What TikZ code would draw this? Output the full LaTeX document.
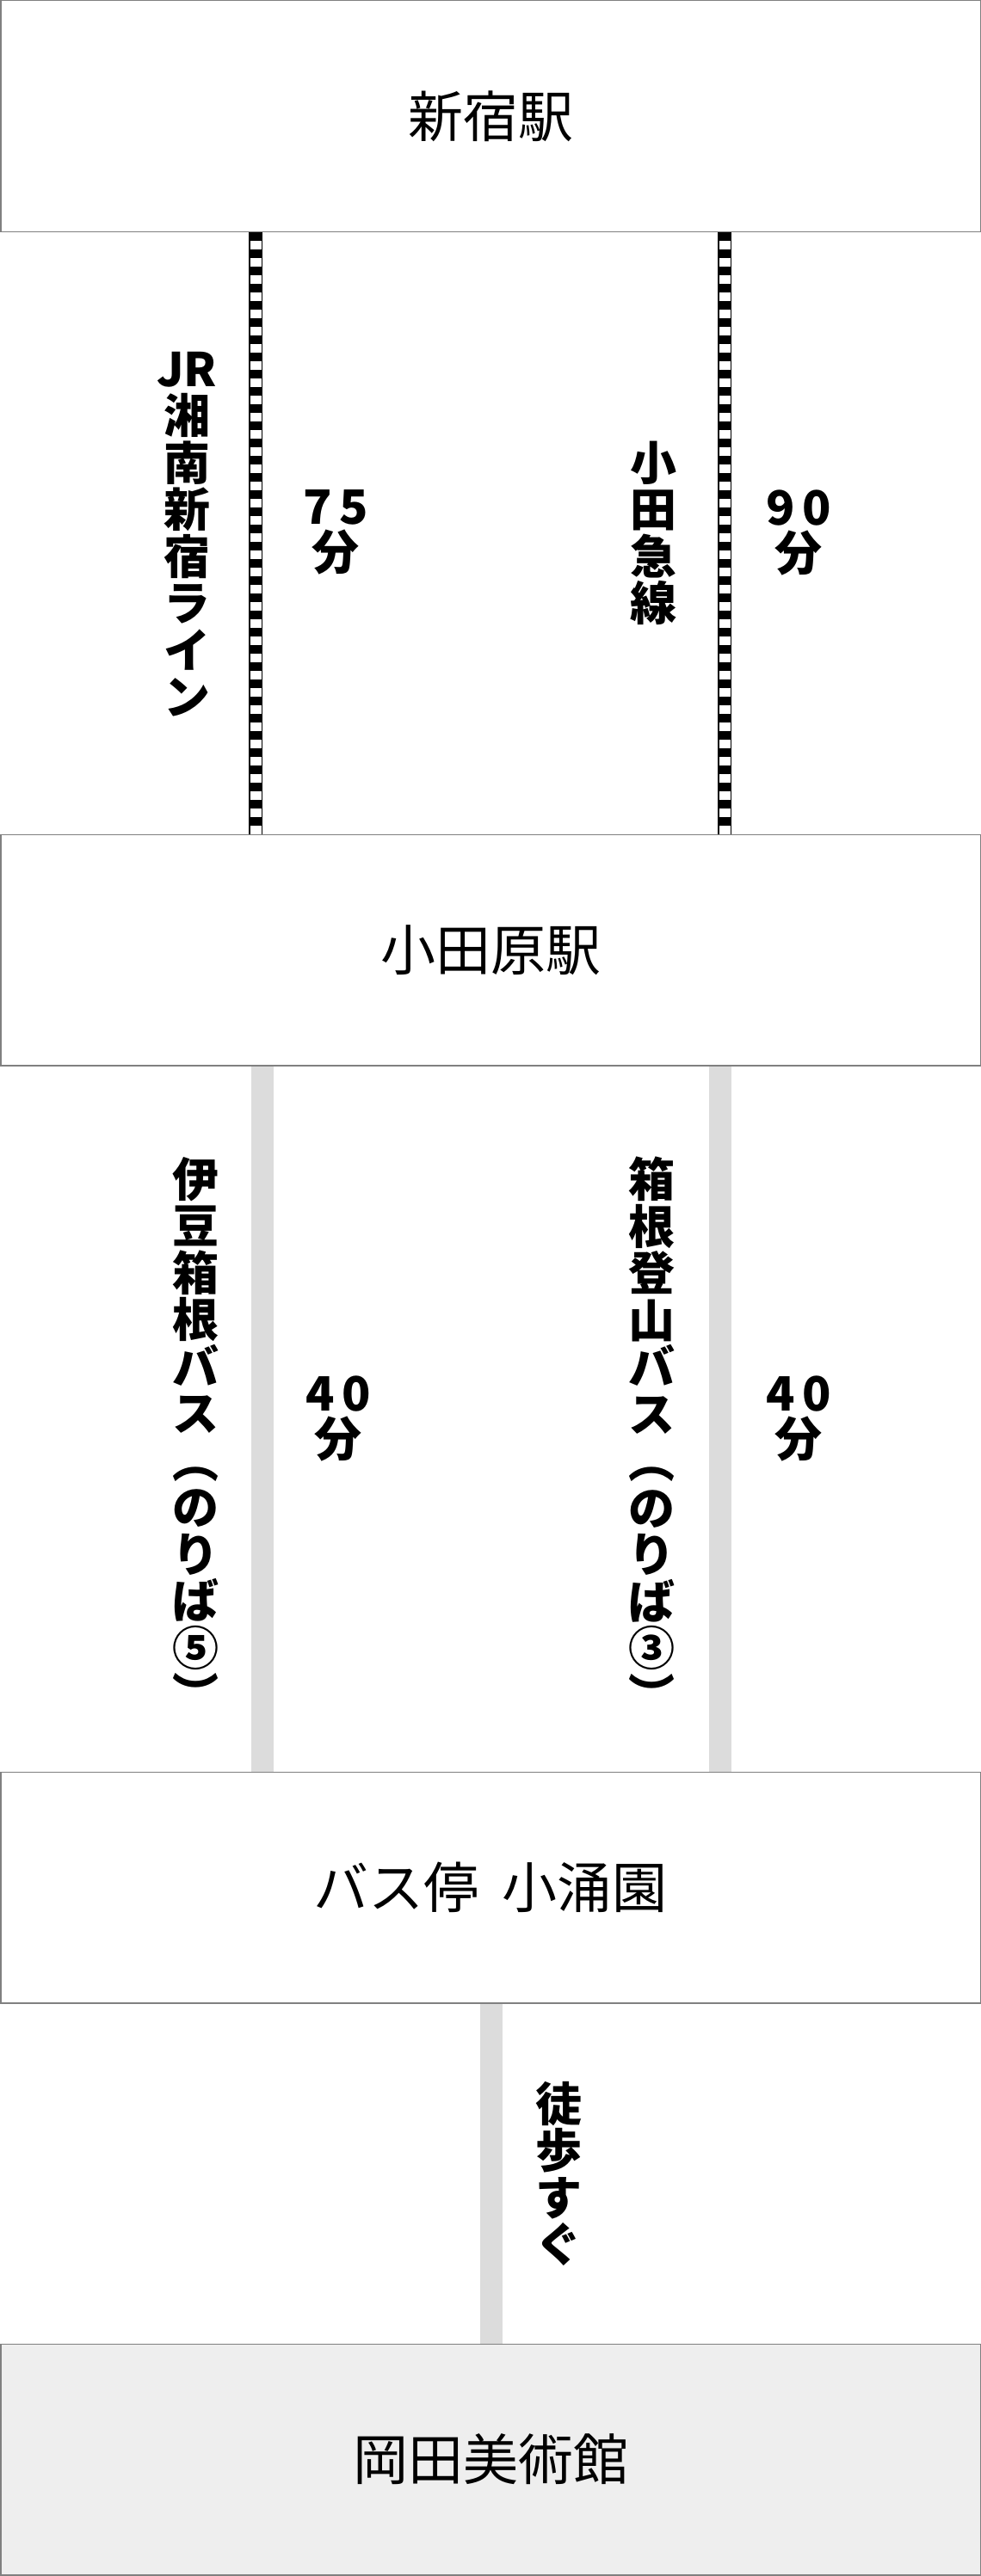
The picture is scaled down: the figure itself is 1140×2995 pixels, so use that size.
\documentclass[tikz,border=0pt]{standalone}
\usepackage{fontspec}
\newfontfamily\jp{Noto Sans CJK JP}
\lineskiplimit=-1000pt
\definecolor{boxline}{HTML}{808080}
\definecolor{barfill}{HTML}{DCDCDC}
\definecolor{lastfill}{HTML}{EEEEEE}
\begin{document}
\begin{tikzpicture}[x=1pt,y=-1pt,
  station/.style={draw=boxline, line width=1.5pt, fill=white, minimum width=1138.5pt,
    minimum height=268.5pt, inner sep=0pt, font=\jp\fontsize{64}{70}\selectfont},
  vlabel/.style={inner sep=0pt, outer sep=0pt, align=center, anchor=north,
    font=\jp\bfseries\fontsize{54}{54.5}\selectfont},
  tlabel/.style={inner sep=0pt, outer sep=0pt, align=center, anchor=north,
    font=\jp\bfseries\fontsize{55}{53}\selectfont},
  rail/.style={draw=black, line width=16pt,
    postaction={draw=white, line width=13pt},
    postaction={draw=black, line width=13pt, dash pattern=on 10pt off 10pt}},
  busbar/.style={draw=barfill, line width=26pt}
]
\useasboundingbox[fill=white] (0,0) rectangle (1140,2995);

% stations
\node[station] (s1) at (570,135) {新宿駅};
\node[station] (s2) at (570,1104.5) {小田原駅};
\node[station] (s3) at (570,2194.5) {バス停\hspace{0.42em}小涌園};
\node[station, fill=lastfill] (s4) at (570,2859.5) {岡田美術館};

% connector x positions
\coordinate (xr1) at (297,0);
\coordinate (xr2) at (842,0);
\coordinate (xb1) at (305,0);
\coordinate (xb2) at (837,0);
\coordinate (xw) at (571,0);

% connectors
\draw[rail] (s1.south -| xr1) -- (s2.north -| xr1);
\draw[rail] (s1.south -| xr2) -- (s2.north -| xr2);
\draw[busbar] (s2.south -| xb1) -- (s3.north -| xb1);
\draw[busbar] (s2.south -| xb2) -- (s3.north -| xb2);
\draw[busbar] (s3.south -| xw) -- (s4.north -| xw);

% labels: railway
\node[vlabel] (jr) at (217,409) {JR\\湘\\南\\新\\宿\\ラ\\イ\\ン};
\node[tlabel] (t75) at (390,570) {7\kern9pt 5\\分};
\node[vlabel] (od) at (759,513) {小\\田\\急\\線};
\node[tlabel] (t90) at (928,570) {9\kern9pt 0\\分};

% labels: bus
\node[vlabel] (izu) at (227,1345) {伊\\豆\\箱\\根\\バ\\ス\\︵\\の\\り\\ば\\⑤\\︶};
\node[tlabel] (t40a) at (393,1600) {4\kern9pt 0\\分};
\node[vlabel] (tozan) at (757,1345) {箱\\根\\登\\山\\バ\\ス\\︵\\の\\り\\ば\\③\\︶};
\node[tlabel] (t40b) at (928,1600) {4\kern9pt 0\\分};

% label: walk
\node[vlabel] (walk) at (649,2420) {徒\\歩\\す\\ぐ};
\end{tikzpicture}
\end{document}
